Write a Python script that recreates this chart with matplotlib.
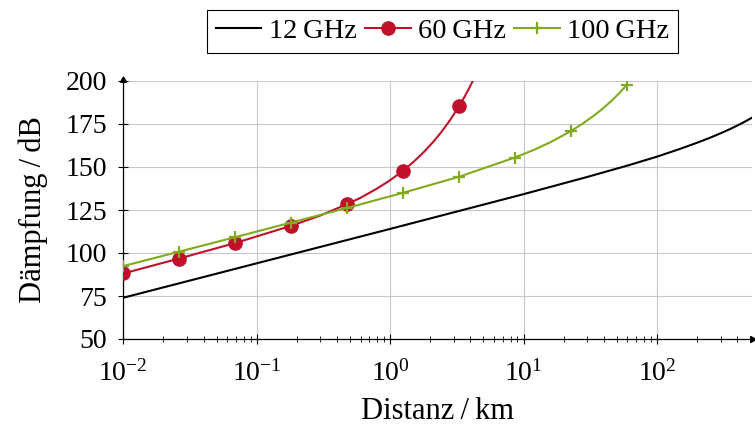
import matplotlib
matplotlib.use("Agg")
import matplotlib.pyplot as plt
from matplotlib.ticker import LogLocator

plt.rcParams['font.family'] = ['Liberation Serif', 'DejaVu Serif']
plt.rcParams['mathtext.fontset'] = 'custom'
plt.rcParams['mathtext.rm'] = 'Liberation Serif'
plt.rcParams['mathtext.it'] = 'Liberation Serif:italic'

# ---- data ----
d12 = [0.01, 0.1, 1, 10, 30, 60, 100, 150, 200, 250, 300, 350, 400, 450, 520, 560]
db12 = [74.0, 94.0, 114.0, 134.2, 144.2, 150.8, 156.0, 160.6, 164.1, 167.0, 169.6,
        171.9, 174.1, 176.1, 178.8, 180.2]

d60 = [0.01, 0.02626, 0.06897, 0.1811, 0.3, 0.4756, 0.6, 0.8, 1.0, 1.249, 1.5, 1.8,
       2.1, 2.4, 2.8, 3.28, 3.6, 3.9, 4.25]
db60 = [88.1, 96.8, 105.8, 115.8, 121.8, 128.4, 132.1, 137.5, 142.3, 147.8, 153.0,
        158.9, 164.5, 169.9, 177.0, 185.2, 190.6, 195.6, 201.4]
mk60 = [0, 1, 2, 3, 5, 9, 15]

d100 = [0.01, 0.02626, 0.06897, 0.1811, 0.4756, 1.249, 3.28, 8.61, 12, 16, 22.6,
        28, 34, 40, 46, 52, 59.5]
db100 = [92.4, 100.8, 109.2, 117.7, 126.2, 135.0, 144.3, 155.5, 160.0, 164.5, 170.8,
         175.4, 180.1, 184.5, 188.7, 192.8, 197.7]
mk100 = [0, 1, 2, 3, 4, 5, 6, 7, 10, 16]

labels = ["12\u2009GHz", "60\u2009GHz", "100\u2009GHz"]
yticks = [50, 75, 100, 125, 150, 175, 200]

RED = "#c0102a"
GREEN = "#80ab1c"

W, H = 755, 426
fig = plt.figure(figsize=(W / 100, H / 100), dpi=100)
x0, x1 = 123.3, 752.0
y0, y1 = 339.0, 81.0
ax = fig.add_axes([x0 / W, (H - y0) / H, (x1 - x0) / W, (y0 - y1) / H])

ax.set_xscale('log')
ax.set_xlim(0.01, 10 ** (-2 + (x1 - x0) / 133.4))
ax.set_ylim(50, 200)

l1, = ax.plot(d12, db12, color='black', lw=1.5, label=labels[0], zorder=3)
l2, = ax.plot(d60, db60, color=RED, lw=1.5, marker='o', ms=9.5, markevery=mk60,
              label=labels[1], zorder=4)
l3, = ax.plot(d100, db100, color=GREEN, lw=1.5, marker='+', ms=9, mew=1.6,
              markevery=mk100, label=labels[2], zorder=4)

ax.set_yticks(yticks)
ax.xaxis.set_major_locator(LogLocator(base=10, numticks=10))
ax.xaxis.set_minor_locator(LogLocator(base=10, subs=range(2, 10), numticks=20))
ax.grid(True, which='major', color='#c8c8c8', lw=0.8, zorder=0)
ax.set_axisbelow(True)

for s in ['top', 'right']:
    ax.spines[s].set_visible(False)
for s in ['left', 'bottom']:
    ax.spines[s].set_linewidth(0.9)

ax.tick_params(which='major', direction='inout', length=7, width=0.8,
               labelsize=20)
ax.tick_params(axis='y', which='major', pad=8)
ax.tick_params(axis='x', which='major', pad=12)
ax.tick_params(which='minor', direction='inout', length=4, width=0.6)
ax.tick_params(axis='y', which='minor', left=False)

# axis arrow tips
ax.plot([1], [0], marker=(3, 0, -90), ms=5, color='black', transform=ax.transAxes,
        clip_on=False, zorder=6)
ax.plot([0], [1.005], marker=(3, 0, 0), ms=5, color='black', transform=ax.transAxes,
        clip_on=False, zorder=6)

ax.set_xlabel("Distanz\u2009/\u2009km", fontsize=22, labelpad=7)
ax.set_ylabel("Dämpfung\u2009/\u2009dB", fontsize=22, labelpad=13)

leg = fig.legend([l1, l2, l3], labels, loc='center', bbox_to_anchor=(0.586, 0.927),
                 ncol=3, frameon=True, fancybox=False, edgecolor='black',
                 framealpha=1, fontsize=20.5, handlelength=1.6, handletextpad=0.25,
                 columnspacing=0.3, borderpad=0.3, borderaxespad=0)
leg.get_frame().set_linewidth(0.8)

fig.savefig("out.png", dpi=100)
